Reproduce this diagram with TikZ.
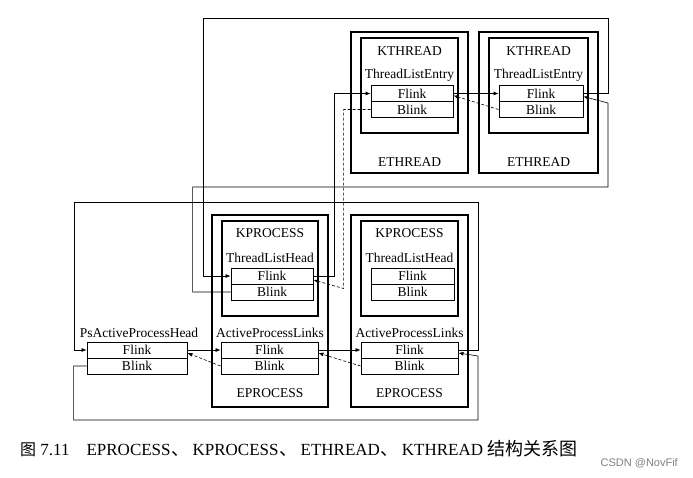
\documentclass[tikz,border=0pt]{standalone}
\usepackage{fontspec}
\setmainfont{Liberation Serif}
\newfontfamily\cjkfont{Noto Sans CJK SC}
\newfontfamily\markfont{Liberation Sans}
\usepackage{tikz}
\usetikzlibrary{arrows.meta}

\newcommand\capsep{\hspace{1pt}{\cjkfont\fontsize{18}{20}\selectfont 、}\hspace{3pt}}

\begin{document}
\begin{tikzpicture}[
  x=1pt, y=-1pt,
  font=\fontsize{13.5}{15}\selectfont,
  structbox/.style={
    draw, line width=1.6pt, inner sep=0pt
  },
  subbox/.style={
    draw, line width=1.1pt, inner sep=0pt
  },
  cell/.style={
    draw, line width=0.9pt, minimum height=16pt, inner sep=0pt
  },
  tag/.style={inner sep=0pt},
  link/.style={
    -{Latex[length=5pt, width=4pt]}, line width=0.6pt
  },
  backlink/.style={link, densely dashed}
]

\useasboundingbox (0,0) rectangle (693,477);

% ETHREAD 1
\node[structbox, minimum width=117pt, minimum height=141pt] (eth1) at (409.5,102.5) {};
\node[subbox, minimum width=97pt, minimum height=95pt] (kth1) at (409.5,85.5) {};
\node[tag] (kth1name) at (409.5,51) {KTHREAD};
\node[tag] (tle1) at (409.5,75) {ThreadListEntry};
\node[cell, minimum width=82pt] (tef1) at (412,93.5) {Flink};
\node[cell, minimum width=82pt] (teb1) at (412,109.5) {Blink};
\node[tag] (eth1name) at (409.5,162) {ETHREAD};

% ETHREAD 2
\node[structbox, minimum width=119pt, minimum height=141pt] (eth2) at (538.5,102.5) {};
\node[subbox, minimum width=99pt, minimum height=95pt] (kth2) at (538.5,85.5) {};
\node[tag] (kth2name) at (538.5,51) {KTHREAD};
\node[tag] (tle2) at (538.5,75) {ThreadListEntry};
\node[cell, minimum width=84pt] (tef2) at (541,93.5) {Flink};
\node[cell, minimum width=84pt] (teb2) at (541,109.5) {Blink};
\node[tag] (eth2name) at (538.5,162) {ETHREAD};

% EPROCESS 1
\node[structbox, minimum width=116pt, minimum height=192pt] (epr1) at (270,311) {};
\node[subbox, minimum width=96pt, minimum height=95pt] (kpr1) at (270,268.5) {};
\node[tag] (kpr1name) at (270,233) {KPROCESS};
\node[tag] (tlh1) at (270,258) {ThreadListHead};
\node[cell, minimum width=82pt] (thf1) at (272,276) {Flink};
\node[cell, minimum width=82pt] (thb1) at (272,292) {Blink};
\node[tag] (apl1) at (270,333) {ActiveProcessLinks};
\node[cell, minimum width=97pt] (apf1) at (269.5,350) {Flink};
\node[cell, minimum width=97pt] (apb1) at (269.5,366) {Blink};
\node[tag] (epr1name) at (270,393) {EPROCESS};

% EPROCESS 2
\node[structbox, minimum width=117pt, minimum height=192pt] (epr2) at (409.5,311) {};
\node[subbox, minimum width=97pt, minimum height=95pt] (kpr2) at (409.5,268.5) {};
\node[tag] (kpr2name) at (409.5,233) {KPROCESS};
\node[tag] (tlh2) at (409.5,258) {ThreadListHead};
\node[cell, minimum width=83pt] (thf2) at (412.5,276) {Flink};
\node[cell, minimum width=83pt] (thb2) at (412.5,292) {Blink};
\node[tag] (apl2) at (409.5,333) {ActiveProcessLinks};
\node[cell, minimum width=97pt] (apf2) at (409.5,350) {Flink};
\node[cell, minimum width=97pt] (apb2) at (409.5,366) {Blink};
\node[tag] (epr2name) at (409.5,393) {EPROCESS};

% list head
\node[tag] (pshead) at (139,333) {PsActiveProcessHead};
\node[cell, minimum width=100pt] (psf) at (137,350) {Flink};
\node[cell, minimum width=100pt] (psb) at (137,366) {Blink};

% corners of the long loops
\coordinate (ttopR) at (608,18);
\coordinate (ttopL) at (203,18);
\coordinate (tlowR) at (608,187);
\coordinate (ptopR) at (478,202);
\coordinate (ptopL) at (74,202);
\coordinate (plowR) at (478,420);

% thread list
\draw[link] (tef2.east) -| (ttopR) -| (ttopL) |- (thf1.west);
\draw[link] (thf1.east) -- ++(21,0) |- (tef1.west);
\draw[backlink] (teb1.west) -- ++(-27,0) -- ++(0,179) -- ([yshift=-4pt]thf1.east);
\draw[link] (tef1.east) -- (tef2.west);
\draw[backlink] (teb2.west) -- ([yshift=-2pt]tef1.east);
\draw[link] (thb1.west) -- ++(-38,0) |- (tlowR) -- ++(0,-84) -- ([yshift=-3pt]tef2.east);

% process list
\draw[link] (apf2.east) -| (ptopR) -| (ptopL) |- (psf.west);
\draw[link] (psb.west) -- ++(-13,0) |- (plowR) -- ++(0,-64) -- ([yshift=-3pt]apf2.east);
\draw[link] (psf.east) -- (apf1.west);
\draw[backlink] (apb1.west) -- ([yshift=-3pt]psf.east);
\draw[link] (apf1.east) -- (apf2.west);
\draw[backlink] (apb2.west) -- ([yshift=-3pt]apf1.east);

% caption
\node[tag, anchor=west, font=\fontsize{17}{19}\selectfont] (caption) at (20,449)
  {{\cjkfont\fontsize{16}{18}\selectfont 图} 7.11\quad EPROCESS\capsep KPROCESS\capsep ETHREAD\capsep KTHREAD {\cjkfont\fontsize{18}{20}\selectfont 结构关系图}};
\node[tag, anchor=east, text=gray, font=\markfont\fontsize{11}{13}\selectfont] (mark) at (678,463) {CSDN @NovFif};

\end{tikzpicture}
\end{document}
